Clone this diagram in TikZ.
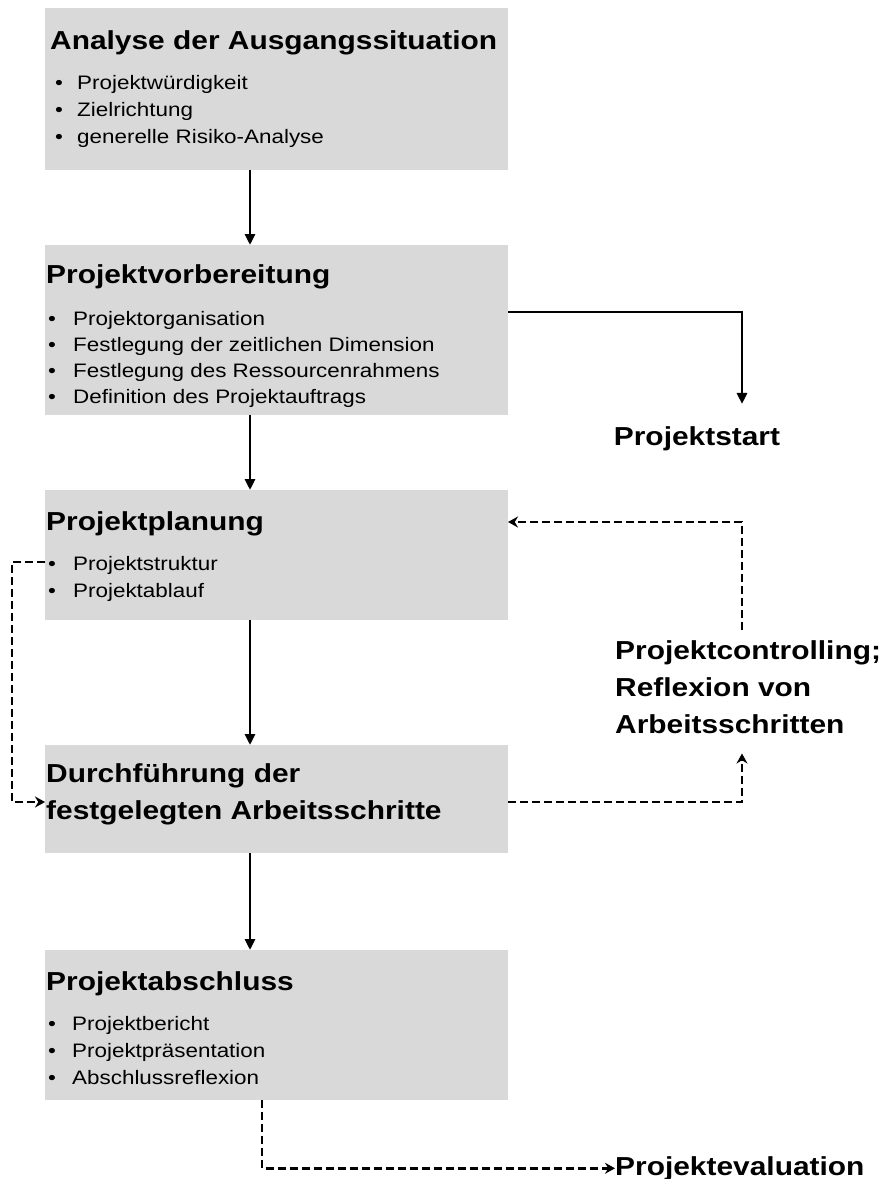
\documentclass[tikz,border=0pt]{standalone}
\usepackage{fontspec}
\setmainfont{Liberation Sans}[FakeStretch=1.15]
\usetikzlibrary{arrows.meta}
\definecolor{kastengrau}{HTML}{D9D9D9}

\begin{document}
\begin{tikzpicture}[x=1pt, y=-1pt,
	phase/.style={fill=kastengrau, inner sep=0pt, outer sep=0pt, minimum width=463pt, anchor=north west},
	titel/.style={font=\fontsize{26}{37}\selectfont\bfseries, inner sep=0pt, anchor=base west, align=left},
	punkt/.style={font=\fontsize{19.5}{26}\selectfont, inner sep=0pt, anchor=base west},
	fluss/.style={line width=2.8pt, -{Triangle[length=11pt,width=10pt]}},
	rueck/.style={line width=2.8pt, dash pattern=on 8pt off 4pt, -{Stealth[length=10pt,width=11pt]}}]
	\useasboundingbox (0,0) rectangle (885,1179);
	\coordinate (achse) at (250,0);
	\coordinate (knick) at (742,0);
	% Phasen
	\node[phase, minimum height=162pt] (analyse) at (45,8) {};
	\node[phase, minimum height=170pt] (vorb) at (45,245) {};
	\node[phase, minimum height=130pt] (plan) at (45,490) {};
	\node[phase, minimum height=108pt] (durch) at (45,745) {};
	\node[phase, minimum height=150pt] (abschl) at (45,950) {};
	% Titel
	\node[titel] (analyse-t) at (50,49) {Analyse der Ausgangssituation};
	\node[titel] (vorb-t) at (46,283) {Projektvorbereitung};
	\node[titel] (plan-t) at (46,530) {Projektplanung};
	\node[titel, anchor=north west] (durch-t) at (46,763) {Durchführung der\\festgelegten Arbeitsschritte};
	\node[titel] (abschl-t) at (46,990) {Projektabschluss};
	% Punkte
	\foreach \i/\y/\t in {1/89/Projektwürdigkeit, 2/116/Zielrichtung, 3/143/generelle Risiko-Analyse}
		\node[punkt] (analyse-\i) at (55,\y) {\makebox[22pt][l]{\textbullet}\t};
	\foreach \i/\y/\t in {1/325/Projektorganisation, 2/351/Festlegung der zeitlichen Dimension, 3/377/Festlegung des Ressourcenrahmens, 4/403/Definition des Projektauftrags}
		\node[punkt] (vorb-\i) at (48,\y) {\makebox[25pt][l]{\textbullet}\t};
	\foreach \i/\y/\t in {1/570/Projektstruktur, 2/597/Projektablauf}
		\node[punkt] (plan-\i) at (48,\y) {\makebox[25pt][l]{\textbullet}\t};
	\foreach \i/\y/\t in {1/1030/Projektbericht, 2/1057/Projektpräsentation, 3/1084/Abschlussreflexion}
		\node[punkt] (abschl-\i) at (48,\y) {\makebox[24pt][l]{\textbullet}\t};
	% Aussen
	\node[titel, anchor=base] (start) at (697,445) {Projektstart};
	\node[titel, anchor=north west] (contr) at (615,640) {Projektcontrolling;\\Reflexion von\\Arbeitsschritten};
	\node[titel] (eval) at (615,1175) {Projektevaluation};
	% Pfeile
	\draw[fluss] (achse |- analyse.south) -- (achse |- vorb.north);
	\draw[fluss] (achse |- vorb.south) -- (achse |- plan.north);
	\draw[fluss] (achse |- plan.south) -- (achse |- durch.north);
	\draw[fluss] (achse |- durch.south) -- (achse |- abschl.north);
	\draw[fluss] (vorb.east |- 0,312) -| ([yshift=22pt]knick |- start.north);
	\draw[rueck] ([yshift=10pt]knick |- contr.north) |- (plan.east |- 0,522);
	\draw[rueck] (durch.east |- 0,802) -| ([yshift=-20pt]knick |- contr.south);
	\draw[rueck] (plan.west |- 0,562) -- (12,562) |- (durch.west |- 0,802);
	\draw[rueck] (262,0 |- abschl.south) |- (eval.west);
\end{tikzpicture}
\end{document}
